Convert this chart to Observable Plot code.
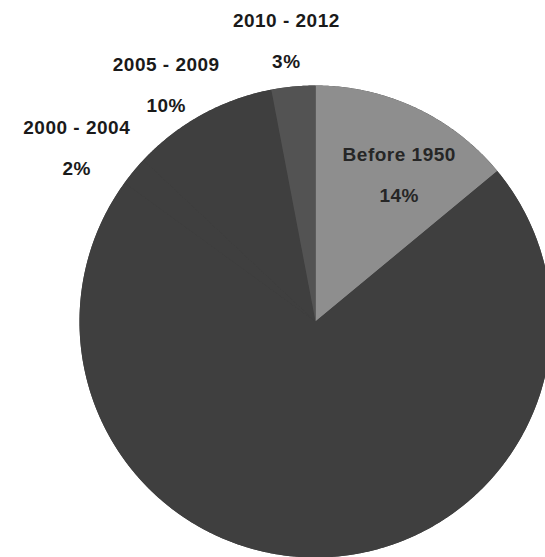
<!DOCTYPE html>
<html>
<head>
<meta charset="utf-8">
<script src="https://cdn.jsdelivr.net/npm/d3@7"></script>
<script src="https://cdn.jsdelivr.net/npm/@observablehq/plot@0.6"></script>
<style>
  html, body { margin: 0; padding: 0; background: #ffffff; }
  #chart svg { display: block; }
  #chart text { letter-spacing: 0.5px; }
</style>
</head>
<body>
<div id="chart"></div>
<script>
// ---- data (clockwise from 12 o'clock) ----
const categories  = ["Before 1950", "Other (unlabelled)", "2000 - 2004", "2005 - 2009", "2010 - 2012"];
const shares      = [14, 71, 2, 10, 3];
const percentText = ["14%", "", "2%", "10%", "3%"];
const labelShown  = [true, false, true, true, true];
const labelInside = [true, false, false, false, false];
const sliceColors = ["#8e8e8e", "#3f3f3f", "#3f3f3f", "#3f3f3f", "#535353"];

// ---- layout ----
const W = 545, H = 557;
const cx = 315, cy = 321, R = 236;   // pie centre & radius in pixels

const total = d3.sum(shares);
let acc = 0;
const slices = categories.map((c, i) => {
  const a0 = acc / total * 360;
  acc += shares[i];
  const a1 = acc / total * 360;
  return {cat: c, a0, a1, mid: (a0 + a1) / 2, i};
});

const rad = d => d * Math.PI / 180;
// polygon points for each slice, unit radius, angle clockwise from top
const pts = [];
for (const s of slices) {
  pts.push({cat: s.cat, x: 0, y: 0});
  const n = Math.max(2, Math.ceil((s.a1 - s.a0) / 0.5));
  for (let k = 0; k <= n; k++) {
    const a = rad(s.a0 + (s.a1 - s.a0) * k / n);
    pts.push({cat: s.cat, x: Math.sin(a), y: Math.cos(a)});
  }
}
// whole-pie disc underneath (hides anti-aliasing seams between same-coloured slices)
const disc = d3.range(0, 721).map(k => ({x: Math.sin(rad(k / 2)), y: Math.cos(rad(k / 2))}));

// label positions derived from slice mid-angles
const halfW = 55 / R, halfH = 28 / R;
const labels = slices.filter(s => labelShown[s.i]).map(s => {
  const a = rad(s.mid);
  const r0 = labelInside[s.i] ? 0.6 : 1.08;
  return {
    x: Math.sin(a) * (r0 + halfW),
    y: Math.cos(a) * (r0 + halfH),
    text: categories[s.i] + "\n" + percentText[s.i],
    inside: labelInside[s.i]
  };
});
// simple vertical collision relaxation among outside labels
const minGap = 44 / R;
const outside = labels.filter(d => !d.inside).sort((p, q) => q.y - p.y);
for (let iter = 0; iter < 20; iter++) {
  for (let k = 1; k < outside.length; k++) {
    const gap = outside[k - 1].y - outside[k].y;
    if (gap < minGap) {
      const push = (minGap - gap) / 2;
      outside[k - 1].y += push;
      outside[k].y -= push;
    }
  }
}

const chart = Plot.plot({
  width: W,
  height: H,
  margin: 0,
  x: {domain: [-cx / R, (W - cx) / R], axis: null},
  y: {domain: [-(H - cy) / R, cy / R], axis: null},
  color: {type: "ordinal", domain: categories, range: sliceColors},
  style: {fontFamily: "'Liberation Sans', Arial, sans-serif", background: "#ffffff"},
  marks: [
    Plot.line(disc, {
      x: "x", y: "y", fill: sliceColors[1], stroke: "none", curve: "linear-closed"
    }),
    Plot.line(pts, {
      x: "x", y: "y", z: "cat", fill: "cat", stroke: "none",
      curve: "linear-closed"
    }),
    Plot.text(labels, {
      x: "x", y: "y", text: "text",
      fontSize: 19, fontWeight: "bold",
      lineHeight: 41 / 19,
      fill: d => d.inside ? "#262626" : "#1a1a1a"
    })
  ]
});

document.getElementById("chart").appendChild(chart);
</script>
</body>
</html>
